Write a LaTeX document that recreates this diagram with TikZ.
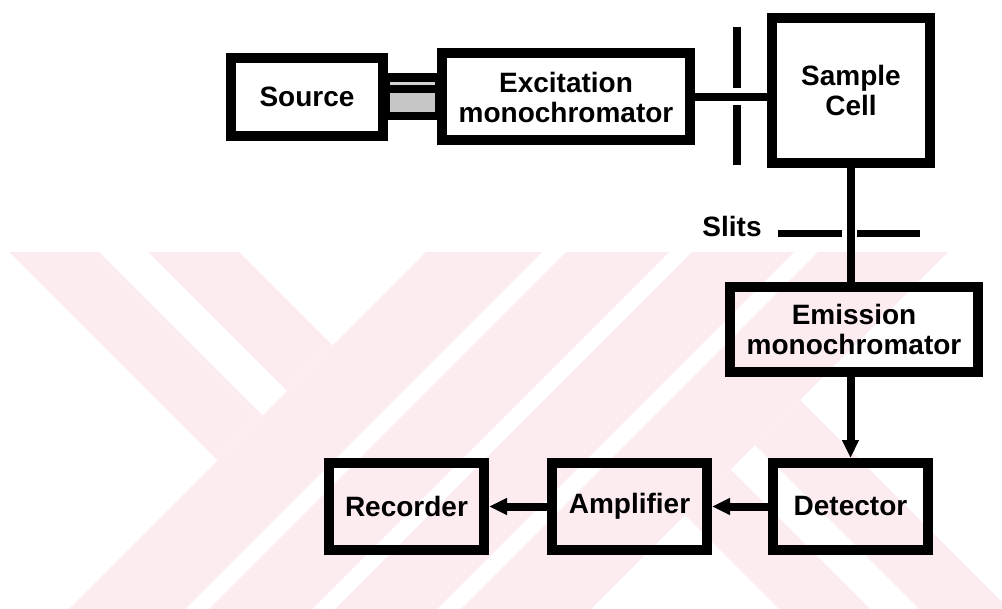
\documentclass[tikz,border=0pt]{standalone}
\usepackage{fontspec}
\setmainfont{Liberation Sans}
\usepackage{tikz}
\usetikzlibrary{positioning,arrows.meta}
\definecolor{wmpink}{RGB}{252,235,239}

\begin{document}
\begin{tikzpicture}[x=0.5pt, y=-0.5pt, node distance=28pt,
    main/.style = {draw, rectangle, line width=5pt, align=center, inner sep=0pt,
      font=\bfseries\fontsize{14}{15}\selectfont},
    beam/.style = {line width=4pt},
    arr/.style = {line width=4pt, -{Triangle[length=9pt,width=8pt]}},
    wm/.style = {fill=wmpink}]
    \useasboundingbox (0,0) rectangle (1002,609);
    %watermark
    \begin{scope}
        \clip (0,253) rectangle (1002,609);
        \foreach \a/\b in {678/794, 818/921, 944/1046, 1070/1200}
            \fill[wm] (\a,0) -- (\a-700,700) -- (\b-700,700) -- (\b,0) -- cycle;
        \fill[wm] (-243,0) -- (217.5,460.5) -- (262.5,415.5) -- (-153,0) -- cycle;
        \fill[wm] (-104,0) -- (287,391) -- (332.5,345.5) -- (-13,0) -- cycle;
        \fill[wm] (685,515) -- (870,700) -- (961,700) -- (730.5,469.5) -- cycle;
        \fill[wm] (755,445) -- (1010,700) -- (1100,700) -- (800,400) -- cycle;
    \end{scope}

    \node[main, minimum width=76pt, minimum height=39pt] (src) at (307,97) {Source};
    \node[main, minimum width=124pt, minimum height=43.5pt] (exc) [right=24.5pt of src] {Excitation\\monochromator};
    \node[main, minimum width=79pt, minimum height=72.5pt] (cell) at (851,90.5) {Sample\\Cell};
    \node[main, minimum width=124pt, minimum height=42.5pt] (emi) at (854,329.5) {Emission\\monochromator};
    \node[main, minimum width=77.5pt, minimum height=43.5pt] (det) at (850.5,506.5) {Detector};
    \node[main, minimum width=77.5pt, minimum height=43.5pt] (amp) [left=of det] {Amplifier};
    \node[main, minimum width=77.5pt, minimum height=43.5pt] (rec) [left=29pt of amp] {Recorder};
    \node[font=\bfseries\fontsize{14}{15}\selectfont, inner sep=0pt] (slits) at (732,226) {Slits};

    %light beam
    \fill ([yshift=12pt]src.east) rectangle ([yshift=-11.5pt]exc.west);
    \fill[gray!35] ([xshift=1pt,yshift=7.5pt]src.east) rectangle ([xshift=-1pt,yshift=6pt]exc.west);
    \fill[gray!45] ([xshift=1pt,yshift=2pt]src.east) rectangle ([xshift=-1pt,yshift=-7.5pt]exc.west);
    \draw[beam] (exc.east) -- (cell.west |- exc.east);
    \draw[beam] (737,27) -- (737,88);
    \draw[beam] (737,105) -- (737,165);
    \draw[beam] (cell.south) -- (cell.south |- emi.north);
    \draw[line width=3.5pt] (778,234) -- (842,234);
    \draw[line width=3.5pt] (857,234) -- (920,234);

    \draw[arr] (det.north |- emi.south) -- (det.north);
    \draw[arr] (det.west) -- (amp.east);
    \draw[arr] (amp.west) -- (rec.east);
\end{tikzpicture}
\end{document}
